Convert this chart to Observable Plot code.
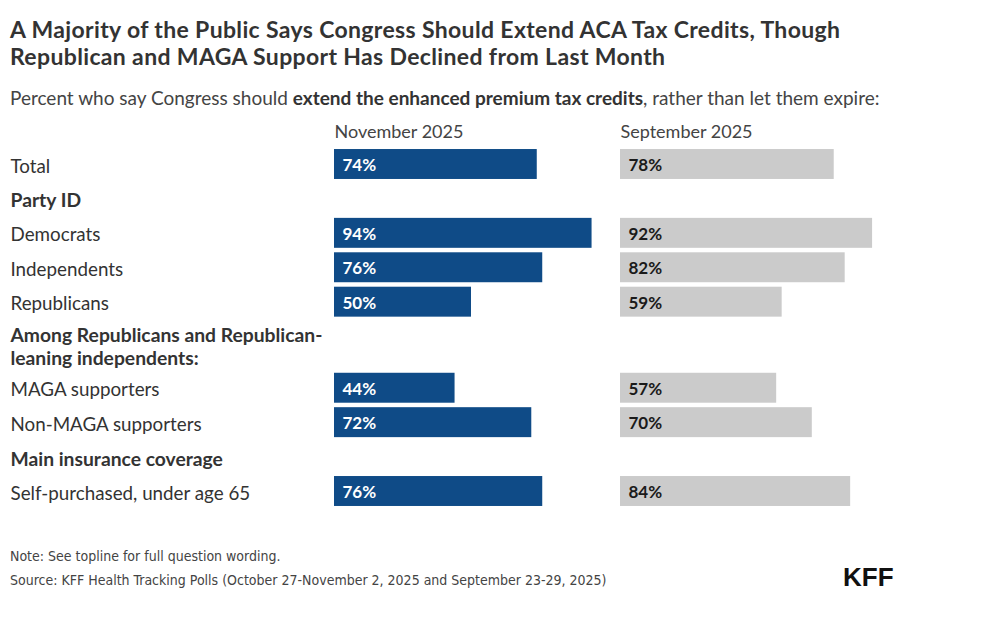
<!DOCTYPE html>
<html>
<head>
<meta charset="utf-8">
<script src="https://cdn.jsdelivr.net/npm/d3@7"></script>
<script src="https://cdn.jsdelivr.net/npm/@observablehq/plot@0.6"></script>
<style>
  html, body { margin: 0; padding: 0; background: #fff; }
  body { width: 987px; height: 629px; position: relative; overflow: hidden; font-family: Lato, "Noto Sans", sans-serif; color: #333; }
  #title { position: absolute; left: 10px; top: 16px; font-size: 23px; font-weight: 700; line-height: 27px; color: #333; letter-spacing: 0.35px; }
  #subtitle { position: absolute; left: 10px; top: 87px; font-size: 19px; line-height: 22px; color: #444; }
  #subtitle b { color: #333; }
  #chart { position: absolute; left: 0; top: 110px; }
  #notes { position: absolute; left: 10px; top: 544px; font-family: "Liberation Sans Narrow", "DejaVu Sans Condensed", sans-serif; font-size: 14px; line-height: 24px; color: #444; }
  #logo { position: absolute; left: 843px; top: 562px; font-family: "Liberation Sans", sans-serif; font-weight: 700; font-size: 26px; color: #111; letter-spacing: 0px; }
</style>
</head>
<body>
<div id="title">A Majority of the Public Says Congress Should Extend ACA Tax Credits, Though<br>Republican and MAGA Support Has Declined from Last Month</div>
<div id="subtitle">Percent who say Congress should <b>extend the enhanced premium tax credits</b>, rather than let them expire:</div>
<div id="chart"></div>
<div id="notes">Note: See topline for full question wording.<br>Source: KFF Health Tracking Polls (October 27-November 2, 2025 and September 23-29, 2025)</div>
<div id="logo">KFF</div>
<script>
const periods = ["November 2025", "September 2025"];
const rowLabels = [
  "Total",
  "Party ID",
  "Democrats",
  "Independents",
  "Republicans",
  "Among Republicans and Republican-\nleaning independents:",
  "MAGA supporters",
  "Non-MAGA supporters",
  "Main insurance coverage",
  "Self-purchased, under age 65"
];
const isGroup = [false, true, false, false, false, true, false, false, true, false];
const novValues = [74, null, 94, 76, 50, null, 44, 72, null, 76];
const sepValues = [78, null, 92, 82, 59, null, 57, 70, null, 84];

// row centres: gap between rows = half the sum of their heights (in row steps)
const rows = [];
let pos = 0;
rowLabels.forEach((label, i) => {
  const h = label.includes("\n") ? 1.5 : 1;
  if (i > 0) pos += 0.5 * (rows[i - 1].h + h);
  rows.push({label, group: isGroup[i], pos, h});
});

const bars = [];
rows.forEach((r, i) => {
  if (novValues[i] != null) bars.push({period: periods[0], value: novValues[i], pos: r.pos});
  if (sepValues[i] != null) bars.push({period: periods[1], value: sepValues[i], pos: r.pos});
});

const half = 0.435;
const labelFx = () => periods[0];

const chart = Plot.plot({
  width: 987,
  height: 401,
  marginTop: 54,
  marginBottom: 20,
  marginLeft: 334,
  marginRight: 93,
  style: {fontFamily: "Lato, 'Noto Sans', sans-serif", overflow: "visible"},
  fx: {domain: periods, padding: 0.042, axis: null},
  x: {domain: [0, 100], axis: null},
  y: {domain: [0, 9.5], reverse: true, axis: null},
  marks: [
    Plot.rectX(bars, {
      fx: "period",
      x1: 0,
      x2: "value",
      y1: d => d.pos - half,
      y2: d => d.pos + half,
      fill: d => d.period === periods[0] ? "#0f4b87" : "#cbcbcb",
      inset: 0
    }),
    Plot.text(bars, {
      fx: "period",
      x: 0,
      y: "pos",
      dx: 8,
      dy: 1,
      text: d => `${d.value}%`,
      textAnchor: "start",
      fill: d => d.period === periods[0] ? "#ffffff" : "#1a1a1a",
      fontSize: 17,
      fontWeight: 700
    }),
    Plot.text(rows.filter(r => !r.group), {
      fx: labelFx,
      x: 0,
      y: "pos",
      dx: -324,
      dy: 2,
      text: "label",
      textAnchor: "start",
      fill: "#333",
      fontSize: 18.8
    }),
    Plot.text(rows.filter(r => r.group), {
      fx: labelFx,
      x: 0,
      y: "pos",
      dx: -324,
      dy: 1,
      text: "label",
      textAnchor: "start",
      lineHeight: 1.2,
      fill: "#333",
      fontSize: 19.3,
      fontWeight: 700
    }),
    Plot.text(periods, {
      fx: d => d,
      frameAnchor: "top-left",
      lineAnchor: "middle",
      dy: -32,
      text: d => d,
      textAnchor: "start",
      fill: "#444",
      fontSize: 18
    })
  ]
});
document.getElementById("chart").appendChild(chart);
</script>
</body>
</html>
